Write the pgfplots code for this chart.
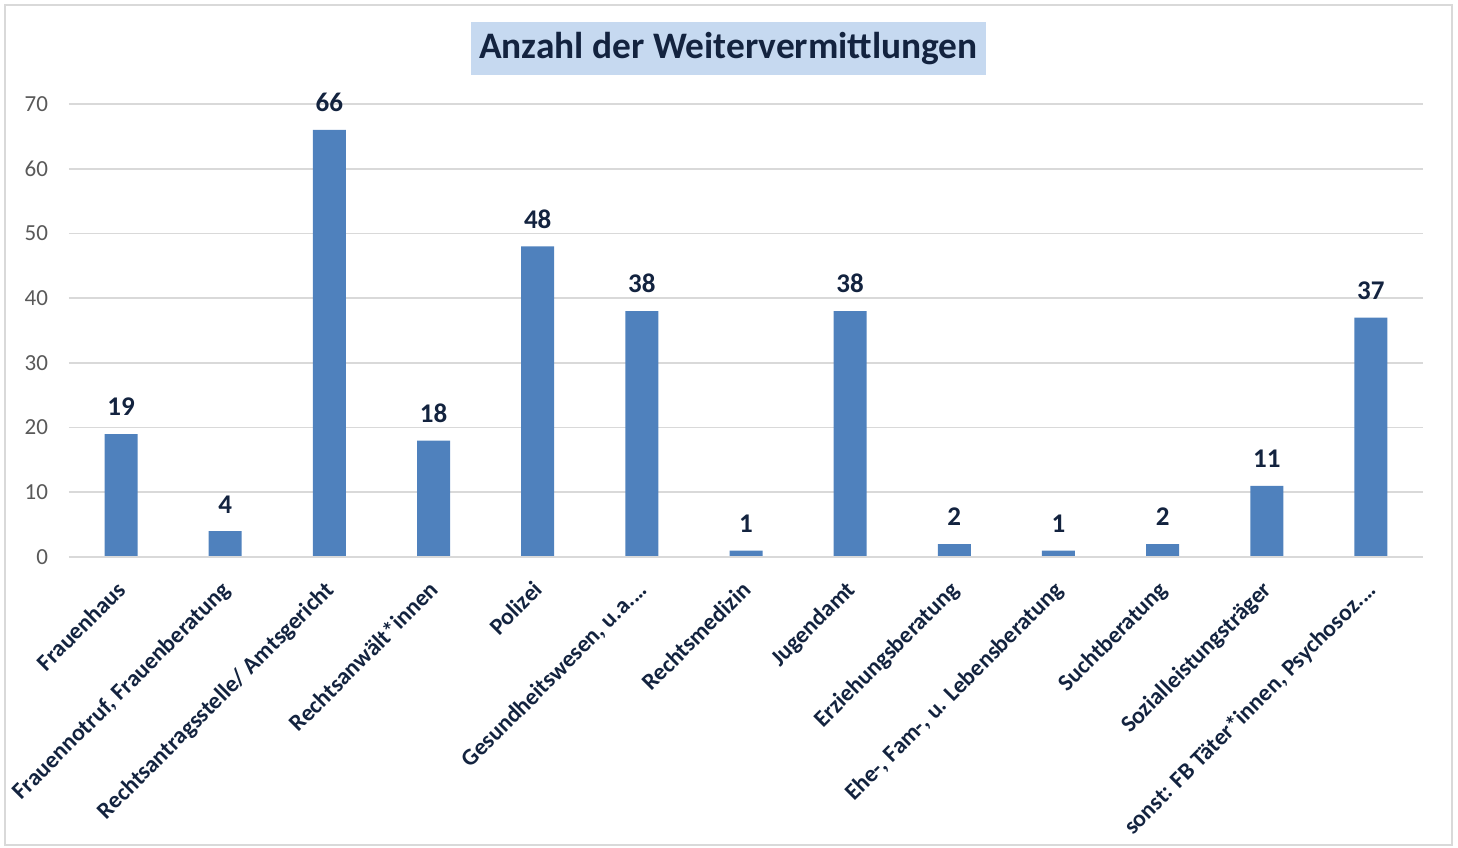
\documentclass[border=0pt]{standalone}
\usepackage{pgfplots}
\pgfplotsset{compat=1.18}
\usepackage{fontspec}
\setmainfont{Carlito}
\definecolor{barblue}{HTML}{4F81BD}
\definecolor{navy}{HTML}{13233F}
\definecolor{gridgray}{HTML}{D9D9D9}
\definecolor{tickgray}{HTML}{595959}
\definecolor{titlebg}{HTML}{C6D9F0}
\begin{document}
\begin{tikzpicture}
\begin{axis}[
  at={(0,0)}, anchor=south west,
  scale only axis,
  width=677pt, height=226.5pt,
  xmin=-0.5, xmax=12.5,
  ymin=0, ymax=70,
  ytick={0,10,...,70},
  xtick={0,...,12},
  xticklabels={Frauenhaus,{Frauennotruf, Frauenberatung},Rechtsantragsstelle/ Amtsgericht,Rechtsanwält*innen,Polizei,{Gesundheitswesen, u.a.\ldots},Rechtsmedizin,Jugendamt,Erziehungsberatung,{Ehe-, Fam-, u. Lebensberatung},Suchtberatung,Sozialleistungsträger,{sonst: FB Täter*innen, Psychosoz.\ldots}},
  x tick label style={rotate=45, anchor=north east, font=\fontsize{11.8}{14}\selectfont\bfseries, text=navy, xshift=-6.5pt, yshift=-2.5pt},
  y tick label style={font=\fontsize{11.5}{13}\selectfont, text=tickgray},
  /pgf/number format/assume math mode=true,
  axis line style={draw=none},
  axis x line*=bottom,
  ymajorgrids,
  grid style={gridgray, line width=0.8pt},
  major tick length=0pt,
  yticklabel style={xshift=-7pt},
  ybar, bar width=16.5pt,
  nodes near coords,
  every node near coord/.append style={font=\fontsize{13.5}{15}\selectfont\bfseries, text=navy, yshift=5.5pt},
  clip=false,
]
\addplot[fill=barblue, draw=none] coordinates {
(0,19) (1,4) (2,66) (3,18) (4,48) (5,38) (6,1) (7,38) (8,2) (9,1) (10,2) (11,11) (12,37)
};
\draw[gridgray, line width=0.8pt] (axis cs:-0.5,0) -- (axis cs:12.5,0);
\end{axis}
\node[fill=titlebg, minimum width=257.5pt, minimum height=26.5pt, inner sep=0pt, font=\fontsize{18.7}{22}\selectfont\bfseries, text=navy] at (329.75pt,254.25pt) {Anzahl der Weitervermittlungen};
\draw[gridgray, line width=1pt] (-32pt,-144pt) rectangle (691.5pt,276pt);
\pgfresetboundingbox
\useasboundingbox (-34.5pt,-145pt) rectangle (694.5pt,278.5pt);
\end{tikzpicture}
\end{document}
